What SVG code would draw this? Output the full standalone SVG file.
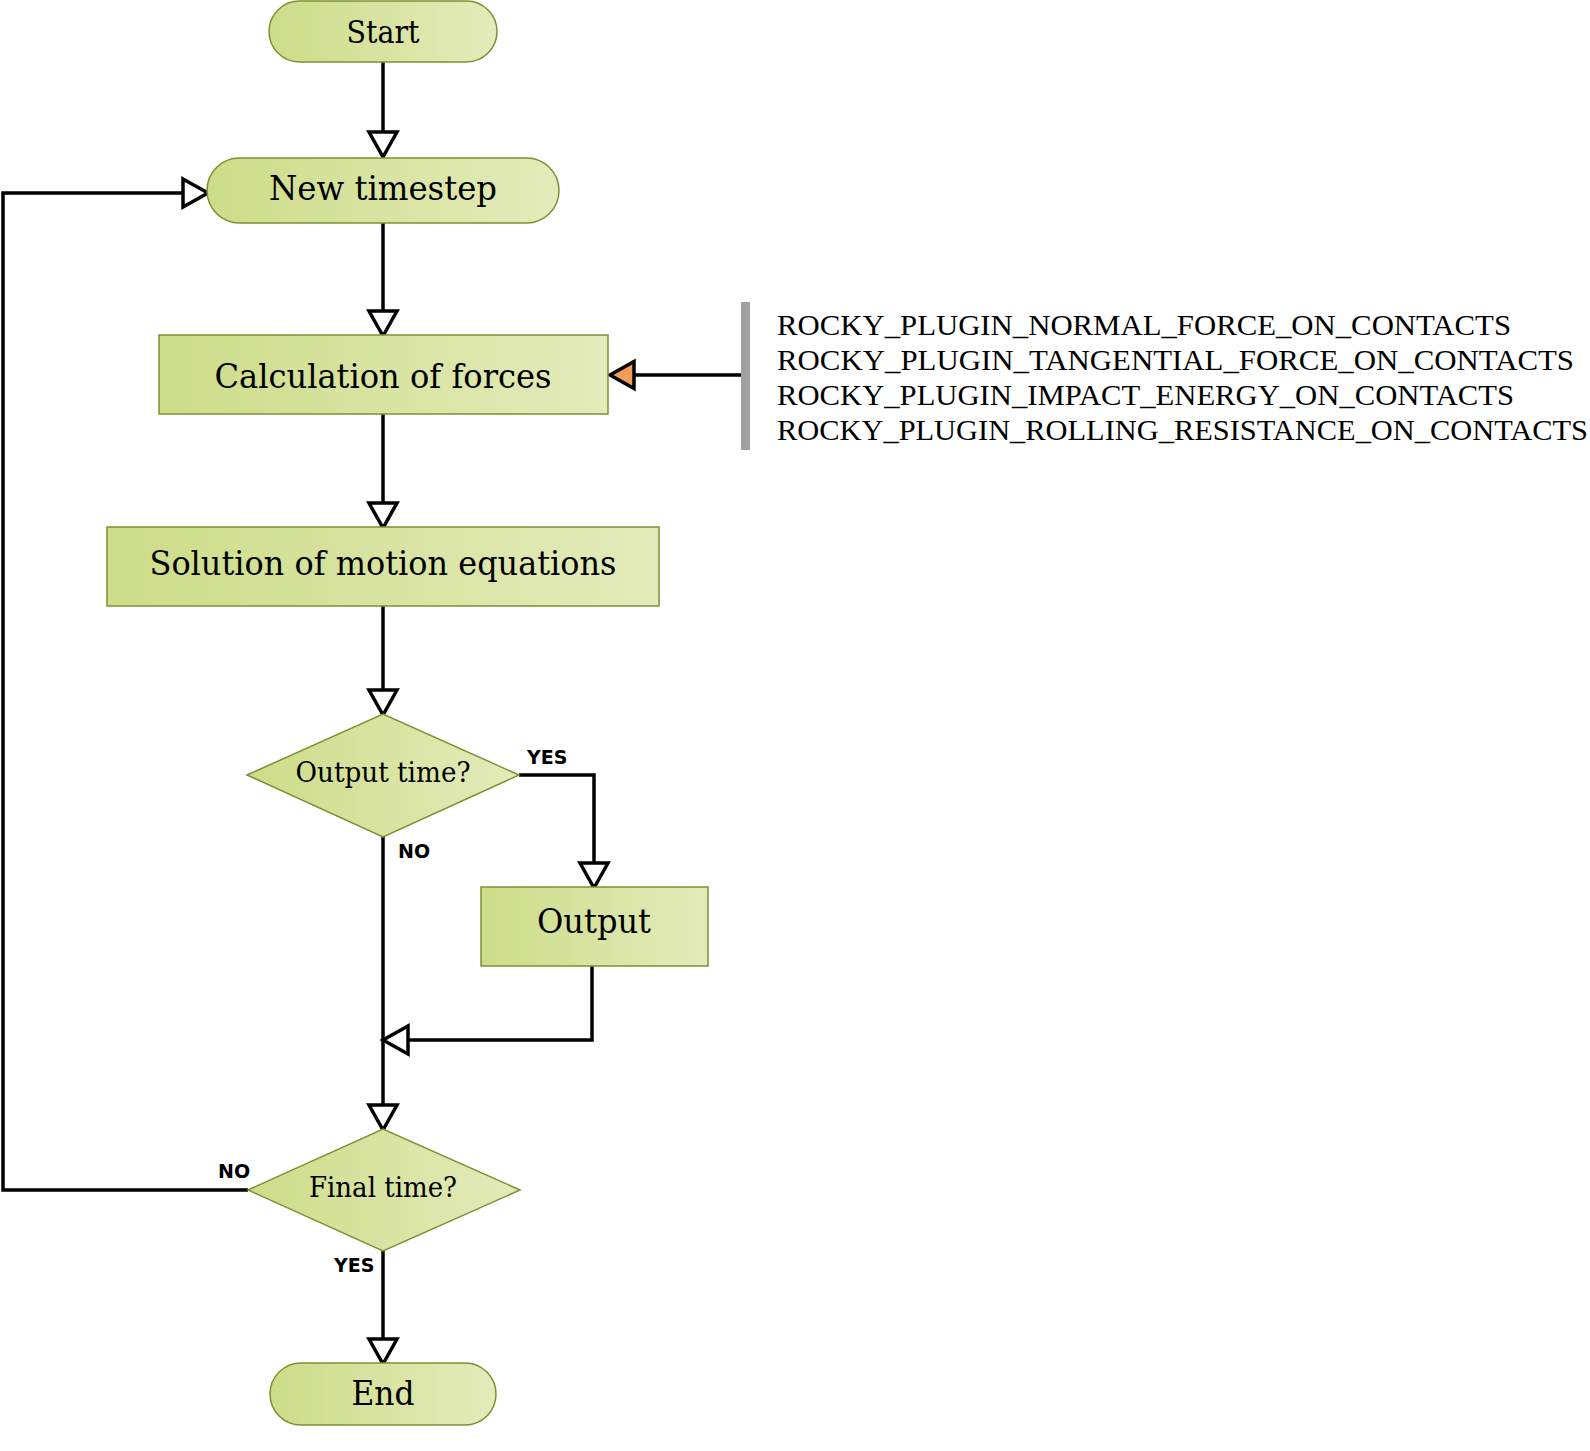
<svg xmlns="http://www.w3.org/2000/svg" width="1590" height="1451" viewBox="0 0 1590 1451">
<defs>
<linearGradient id="g" x1="0" y1="0" x2="1" y2="0">
<stop offset="0" stop-color="#cddc88"/>
<stop offset="1" stop-color="#e3ebbb"/>
</linearGradient>
<marker id="open" markerUnits="userSpaceOnUse" markerWidth="40" markerHeight="40" viewBox="-5 -5 40 40" refX="24" refY="14" orient="auto" overflow="visible">
<path d="M0,0 L25,14 L0,28 Z" fill="#fff" stroke="#000" stroke-width="3.5" stroke-linejoin="miter"/>
</marker>
<marker id="orange" markerUnits="userSpaceOnUse" markerWidth="40" markerHeight="40" viewBox="-5 -5 40 40" refX="23" refY="13.5" orient="auto" overflow="visible">
<path d="M0,0 L24,13.5 L0,27 Z" fill="#f59c58" stroke="#000" stroke-width="3.5"/>
</marker>
<style>
.n{fill:url(#g);stroke:#7d9030;stroke-width:1.5}
.t{font-family:"DejaVu Serif",serif;fill:#000;text-anchor:middle}
.l{font-family:"DejaVu Sans",sans-serif;font-weight:bold;font-size:19px;fill:#000}
.c{fill:none;stroke:#000;stroke-width:3.5}
.r{font-family:"Liberation Serif",serif;font-size:30px;fill:#000}
</style>
</defs>
<g id="connectors">
<path class="c" d="M383 62 V156" marker-end="url(#open)"/>
<path class="c" d="M383 223 V335" marker-end="url(#open)"/>
<path class="c" d="M383 414 V527" marker-end="url(#open)"/>
<path class="c" d="M383 606 V714" marker-end="url(#open)"/>
<path class="c" d="M519 775 H594 V887" marker-end="url(#open)"/>
<path class="c" d="M383 837 V1129" marker-end="url(#open)"/>
<path class="c" d="M592 966 V1040 H384" marker-end="url(#open)"/>
<path class="c" d="M383 1251 V1363" marker-end="url(#open)"/>
<path class="c" d="M248 1190 H3 V193 H207" marker-end="url(#open)"/>
<path class="c" d="M745 375 H611" marker-end="url(#orange)"/>
</g>
<g id="start">
<rect class="n" x="269" y="1" width="228" height="61" rx="30.5"/>
<text class="t" x="383" y="43" font-size="32" textLength="73" lengthAdjust="spacingAndGlyphs">Start</text>
</g>
<g id="new-timestep">
<rect class="n" x="207" y="158" width="352" height="65" rx="32.5"/>
<text class="t" x="383" y="200" font-size="33" textLength="228" lengthAdjust="spacingAndGlyphs">New timestep</text>
</g>
<g id="calc-forces">
<rect class="n" x="159" y="335" width="449" height="79"/>
<text class="t" x="383" y="388" font-size="33" textLength="337" lengthAdjust="spacingAndGlyphs">Calculation of forces</text>
</g>
<g id="solution">
<rect class="n" x="107" y="527" width="552" height="79"/>
<text class="t" x="383" y="575" font-size="33" textLength="467" lengthAdjust="spacingAndGlyphs">Solution of motion equations</text>
</g>
<g id="output-time">
<polygon class="n" points="247,775 383,714 519,775 383,837"/>
<text class="t" x="383" y="782" font-size="27" textLength="175" lengthAdjust="spacingAndGlyphs">Output time?</text>
</g>
<g id="output">
<rect class="n" x="481" y="887" width="227" height="79"/>
<text class="t" x="594" y="933" font-size="33" textLength="114" lengthAdjust="spacingAndGlyphs">Output</text>
</g>
<g id="final-time">
<polygon class="n" points="248,1190 383,1129 520,1190 383,1251"/>
<text class="t" x="383" y="1197" font-size="27" textLength="148" lengthAdjust="spacingAndGlyphs">Final time?</text>
</g>
<g id="end">
<rect class="n" x="270" y="1363" width="226" height="62" rx="31"/>
<text class="t" x="383" y="1405" font-size="33" textLength="63" lengthAdjust="spacingAndGlyphs">End</text>
</g>
<g id="plugins">
<rect x="741" y="302" width="9" height="148" fill="#a0a0a0"/>
<text class="r" x="777" y="335" textLength="734" lengthAdjust="spacingAndGlyphs">ROCKY_PLUGIN_NORMAL_FORCE_ON_CONTACTS</text>
<text class="r" x="777" y="370" textLength="797" lengthAdjust="spacingAndGlyphs">ROCKY_PLUGIN_TANGENTIAL_FORCE_ON_CONTACTS</text>
<text class="r" x="777" y="405" textLength="737" lengthAdjust="spacingAndGlyphs">ROCKY_PLUGIN_IMPACT_ENERGY_ON_CONTACTS</text>
<text class="r" x="777" y="440" textLength="811" lengthAdjust="spacingAndGlyphs">ROCKY_PLUGIN_ROLLING_RESISTANCE_ON_CONTACTS</text>
</g>
<g id="labels">
<text class="l" x="527" y="764">YES</text>
<text class="l" x="398" y="858">NO</text>
<text class="l" x="218" y="1178">NO</text>
<text class="l" x="334" y="1272">YES</text>
</g>
</svg>
